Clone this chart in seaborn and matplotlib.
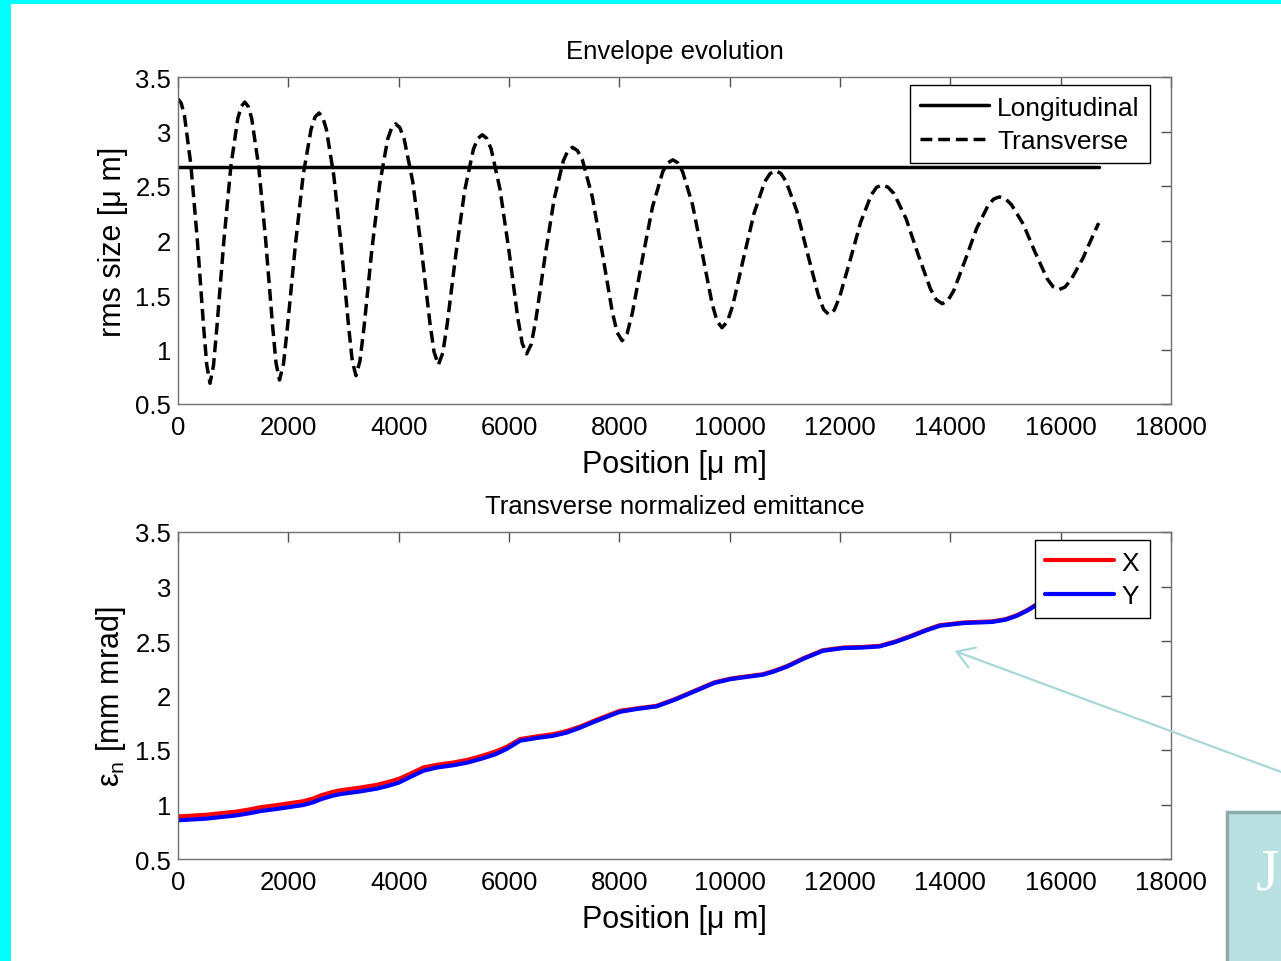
import numpy as np
import pandas as pd
import matplotlib
matplotlib.use("Agg")
import matplotlib.pyplot as plt
from matplotlib.patches import Rectangle
import seaborn as sns

# ---------------- data ----------------
pos_long = [0, 16690]
size_long = [2.67, 2.67]

pos_trans = [0, 58, 116, 232, 348, 464, 522,
             580, 643, 706, 832, 958, 1084, 1147,
             1210, 1273, 1336, 1462, 1588, 1714, 1777,
             1840, 1912, 1983, 2126, 2269, 2412, 2484,
             2555, 2622, 2689, 2823, 2957, 3091, 3158,
             3225, 3297, 3369, 3513, 3657, 3801, 3873,
             3945, 4022, 4100, 4255, 4410, 4565, 4642,
             4720, 4800, 4879, 5038, 5197, 5356, 5436,
             5515, 5596, 5676, 5837, 5998, 6159, 6240,
             6320, 6403, 6486, 6652, 6818, 6984, 7067,
             7150, 7240, 7330, 7510, 7690, 7870, 7960,
             8050, 8142, 8234, 8418, 8602, 8786, 8878,
             8970, 9059, 9148, 9326, 9504, 9682, 9771,
             9860, 9957, 10054, 10248, 10442, 10636, 10733,
             10830, 10927, 11024, 11218, 11412, 11606, 11703,
             11800, 11896, 11992, 12184, 12376, 12568, 12664,
             12760, 12870, 12979, 13198, 13417, 13636, 13746,
             13855, 13959, 14062, 14269, 14476, 14683, 14787,
             14890, 14998, 15106, 15322, 15538, 15754, 15862,
             15970, 16079, 16188, 16406, 16624, 16690]
size_trans = [3.30, 3.26, 3.15, 2.70, 2.02, 1.21, 0.855,
              0.69, 0.852, 1.21, 2.00, 2.68, 3.12, 3.23,
              3.27, 3.23, 3.12, 2.68, 2.01, 1.22, 0.876,
              0.72, 0.867, 1.20, 1.95, 2.60, 3.02, 3.133,
              3.17, 3.133, 3.02, 2.60, 1.96, 1.22, 0.899,
              0.76, 0.891, 1.19, 1.91, 2.52, 2.93, 3.034,
              3.07, 3.035, 2.93, 2.54, 1.93, 1.25, 0.976,
              0.86, 0.969, 1.23, 1.88, 2.46, 2.84, 2.936,
              2.97, 2.937, 2.84, 2.47, 1.91, 1.29, 1.056,
              0.96, 1.048, 1.27, 1.85, 2.38, 2.73, 2.824,
              2.855, 2.825, 2.74, 2.40, 1.89, 1.35, 1.156,
              1.08, 1.149, 1.33, 1.83, 2.31, 2.63, 2.712,
              2.74, 2.713, 2.63, 2.33, 1.88, 1.42, 1.261,
              1.20, 1.255, 1.40, 1.83, 2.25, 2.54, 2.614,
              2.64, 2.616, 2.54, 2.27, 1.88, 1.50, 1.367,
              1.32, 1.362, 1.48, 1.82, 2.17, 2.42, 2.488,
              2.51, 2.489, 2.43, 2.20, 1.87, 1.56, 1.456,
              1.42, 1.452, 1.54, 1.82, 2.11, 2.32, 2.381,
              2.40, 2.383, 2.33, 2.15, 1.89, 1.65, 1.576,
              1.55, 1.573, 1.64, 1.84, 2.09, 2.16]

pos_emit = [0, 500, 1060, 1300, 1500, 1800, 2000, 2270, 2450, 2600,
            2800, 2940, 3300, 3600, 3800, 4000, 4200, 4450, 4700, 4990,
            5250, 5500, 5750, 5960, 6200, 6500, 6800, 7050, 7290, 7550,
            7830, 8010, 8300, 8675, 9000, 9350, 9720, 10015, 10300, 10600,
            10800, 11040, 11350, 11690, 12060, 12400, 12715, 13000, 13300, 13550,
            13810, 14250, 14760, 15000, 15200, 15400, 15560, 16000, 16690]
emit_x = [0.89, 0.905, 0.935, 0.955, 0.975, 0.995, 1.01, 1.03, 1.055, 1.085,
          1.115, 1.13, 1.155, 1.18, 1.205, 1.235, 1.28, 1.34, 1.365, 1.385,
          1.41, 1.445, 1.485, 1.53, 1.60, 1.625, 1.645, 1.675, 1.715, 1.77,
          1.825, 1.86, 1.88, 1.905, 1.965, 2.04, 2.12, 2.155, 2.175, 2.195,
          2.225, 2.27, 2.345, 2.415, 2.44, 2.445, 2.455, 2.495, 2.55, 2.60,
          2.645, 2.67, 2.68, 2.70, 2.735, 2.785, 2.835, 2.925, 3.035]
emit_y = [0.855, 0.87, 0.90, 0.92, 0.94, 0.96, 0.975, 0.995, 1.02, 1.05,
          1.08, 1.095, 1.12, 1.145, 1.17, 1.20, 1.25, 1.31, 1.34, 1.36,
          1.385, 1.42, 1.46, 1.51, 1.585, 1.61, 1.63, 1.66, 1.705, 1.76,
          1.815, 1.85, 1.875, 1.90, 1.96, 2.035, 2.115, 2.15, 2.17, 2.19,
          2.22, 2.265, 2.34, 2.41, 2.435, 2.44, 2.45, 2.49, 2.545, 2.595,
          2.64, 2.665, 2.675, 2.695, 2.73, 2.78, 2.83, 2.92, 3.03]

xticks = [0, 2000, 4000, 6000, 8000, 10000, 12000, 14000, 16000, 18000]
xtick_labels = ["0", "2000", "4000", "6000", "8000", "10000", "12000", "14000", "16000", "18000"]
yticks = [0.5, 1.0, 1.5, 2.0, 2.5, 3.0, 3.5]
ytick_labels = ["0.5", "1", "1.5", "2", "2.5", "3", "3.5"]

# ---------------- style ----------------
sns.set_theme(style="white")
plt.rcParams["font.family"] = ["Liberation Sans", "DejaVu Sans"]
plt.rcParams["mathtext.fontset"] = "custom"
plt.rcParams["mathtext.rm"] = "Liberation Sans"
plt.rcParams["text.color"] = "black"
plt.rcParams["axes.labelcolor"] = "black"
plt.rcParams["axes.titlecolor"] = "black"

W, H = 1281, 962
fig = plt.figure(figsize=(W / 100, H / 100), dpi=100, facecolor="#00FFFF")
fig.patches.append(Rectangle((11 / W, 0), 1 - 11 / W, 1 - 5 / H, transform=fig.transFigure,
                             facecolor="white", edgecolor="none", zorder=-5))

ax_l, ax_r = 178, 1171
def axes_px(top, bottom):
    return [ax_l / W, 1 - bottom / H, (ax_r - ax_l) / W, (bottom - top) / H]

ax1 = fig.add_axes(axes_px(78, 405))
ax2 = fig.add_axes(axes_px(533, 860))

spine_col = "#707070"
tick_fs = 18.5
label_fs = 22

def style_axes(ax):
    ax.set_xlim(0, 18000)
    ax.set_ylim(0.5, 3.5)
    ax.set_xticks(xticks)
    ax.set_xticklabels(xtick_labels)
    ax.set_yticks(yticks)
    ax.set_yticklabels(ytick_labels)
    for s in ax.spines.values():
        s.set_visible(True)
        s.set_color(spine_col)
        s.set_linewidth(1.0)
    ax.tick_params(direction="in", length=7.5, width=1.0, color="#505050",
                   top=True, right=True, labelsize=tick_fs, labelcolor="black")
    ax.tick_params(axis="x", pad=8)
    ax.tick_params(axis="y", pad=5)
    ax.set_facecolor("white")
    ax.grid(False)

# top panel
sns.lineplot(x=pos_long, y=size_long, ax=ax1, color="black", linewidth=2.5,
             label="Longitudinal", sort=False)
sns.lineplot(x=pos_trans, y=size_trans, ax=ax1, color="black", linewidth=2.5,
             linestyle=(0, (3.4, 1.7)), label="Transverse", sort=False)
style_axes(ax1)
ax1.set_title("Envelope evolution", fontsize=18.5, pad=14, color="black")
ax1.set_xlabel("Position [μ m]", fontsize=label_fs, labelpad=7, color="black")
ax1.set_ylabel("rms size [μ m]", fontsize=label_fs, labelpad=5, color="black")

leg_kw = dict(loc="upper right", bbox_to_anchor=(1 - 21 / 993, 1 - 8 / 327),
              borderaxespad=0, fontsize=19, handlelength=2.6, handletextpad=0.3,
              borderpad=0.4, labelspacing=0.35, fancybox=False, framealpha=1,
              edgecolor="black", labelcolor="black")
lg1 = ax1.legend(**leg_kw)
lg1.get_frame().set_linewidth(1.0)

# bottom panel
sns.lineplot(x=pos_emit, y=emit_x, ax=ax2, color="#FF0000", linewidth=3.0, label="X", sort=False)
sns.lineplot(x=pos_emit, y=emit_y, ax=ax2, color="#0000FF", linewidth=3.0, label="Y", sort=False)
style_axes(ax2)
ax2.set_title("Transverse normalized emittance", fontsize=18.5, pad=14, color="black")
ax2.set_xlabel("Position [μ m]", fontsize=label_fs, labelpad=7, color="black")
ax2.set_ylabel(r"$\mathregular{\varepsilon_n}$ [mm mrad]", fontsize=label_fs, labelpad=5, color="black")
lg2 = ax2.legend(**leg_kw)
lg2.get_frame().set_linewidth(1.0)

# decoration: arrow and box at lower right
ax2.annotate("", xy=(952 / W, 1 - 651 / H), xycoords="figure fraction",
             xytext=(1300 / W, 1 - 780 / H), textcoords="figure fraction",
             arrowprops=dict(arrowstyle="->,head_length=0.6,head_width=0.38",
                             color="#a8d8d9", lw=1.6, mutation_scale=20),
             annotation_clip=False)
fig.patches.append(Rectangle((1227 / W, -0.05), 0.2, (962 - 813) / H + 0.05,
                             transform=fig.transFigure, facecolor="#b9e0e2",
                             edgecolor="#8eaaad", linewidth=2.5, zorder=5))
fig.text(1256 / W, 1 - 876 / H, "J", color="white", fontsize=43,
         family=["Liberation Serif", "DejaVu Serif"], va="center", ha="left", zorder=6)

fig.savefig("out.png", dpi=100, facecolor=fig.get_facecolor())
